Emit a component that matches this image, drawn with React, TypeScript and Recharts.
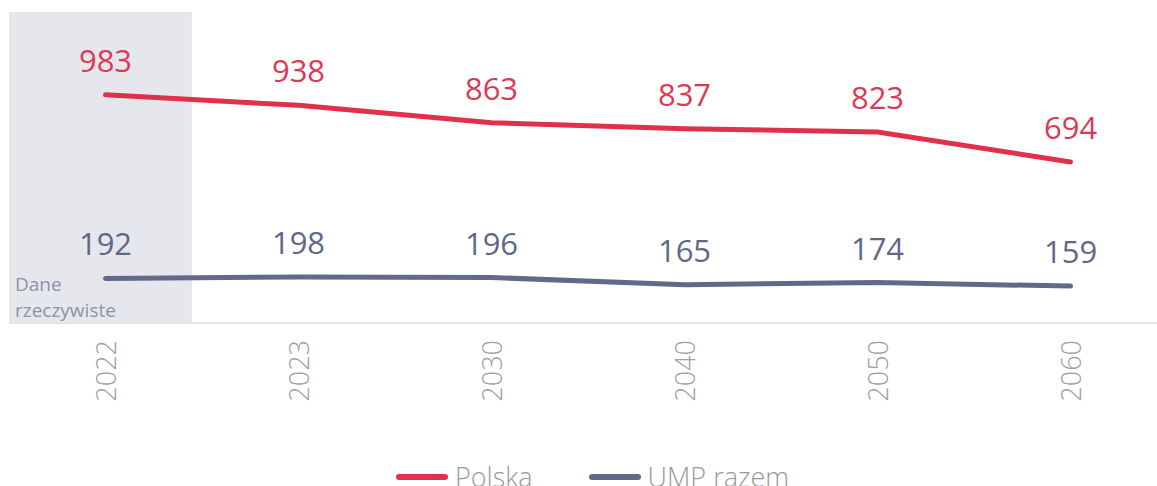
import { LineChart, Line, XAxis, YAxis, ReferenceArea, LabelList } from "recharts";

const years = ["2022", "2023", "2030", "2040", "2050", "2060"];
const polska = [983, 938, 863, 837, 823, 694];
const ump = [192, 198, 196, 165, 174, 159];

const RED = "#e0304b";
const BLUE = "#626a8a";
const FONT = "'Open Sans', 'Noto Sans', sans-serif";

const data = years.map((y, i) => ({ idx: i, year: y, polska: polska[i], ump: ump[i] }));

const makeLabel = (color: string) => (props: any) => {
  const { x, y, value } = props;
  return (
    <text x={x} y={y - 35} fill={color} fontSize={31} fontFamily={FONT} textAnchor="middle" dominantBaseline="central">
      {value}
    </text>
  );
};

const YearTick = (props: any) => {
  const { x, payload } = props;
  return (
    <text
      x={x}
      y={340}
      transform={`rotate(-90, ${x}, 340)`}
      textAnchor="end"
      dominantBaseline="central"
      fill="#a0a0a0"
      fontSize={27}
      fontWeight={300}
      fontFamily={FONT}
    >
      {years[payload.value]}
    </text>
  );
};

const legendItems = [
  { name: "Polska", color: RED },
  { name: "UMP razem", color: BLUE },
];

export default function App() {
  return (
    <div style={{ position: "absolute", left: 0, top: 0, width: 1157, height: 486, background: "#fff", overflow: "hidden" }}>
      <LineChart width={1157} height={486} data={data} margin={{ top: 12, right: 0, left: 9, bottom: 133 }}>
        <XAxis
          dataKey="idx"
          type="number"
          domain={[-0.5, 5.448]}
          ticks={[0, 1, 2, 3, 4, 5]}
          tick={<YearTick />}
          tickLine={false}
          axisLine={{ stroke: "#e4e4e4", strokeWidth: 2 }}
          allowDataOverflow
        />
        <YAxis hide domain={[0, 1340]} />
        <Line dataKey="polska" stroke={RED} strokeWidth={5} strokeLinecap="round" dot={false} isAnimationActive={false}>
          <LabelList dataKey="polska" content={makeLabel("#db3a55")} />
        </Line>
        <Line dataKey="ump" stroke={BLUE} strokeWidth={5} strokeLinecap="round" dot={false} isAnimationActive={false}>
          <LabelList dataKey="ump" content={makeLabel("#5f6887")} />
        </Line>
        <ReferenceArea x1={-0.5} x2={0.448} y1={0} y2={1340} fill="#dcdde6" fillOpacity={0.7} stroke="none" />
      </LineChart>
      <div style={{ position: "absolute", left: 15, top: 271, fontFamily: FONT, fontSize: 19, lineHeight: "26px", color: "#8c92aa" }}>
        Dane<br />rzeczywiste
      </div>
      <div style={{ position: "absolute", left: 0, width: 1157, top: 462, height: 30, lineHeight: "30px", display: "flex", justifyContent: "center", alignItems: "center", gap: 56, fontFamily: FONT, fontWeight: 300, fontSize: 27, color: "#9a9a9a", paddingLeft: 28, boxSizing: "border-box" }}>
        {legendItems.map((it) => (
          <div key={it.name} style={{ display: "flex", alignItems: "center" }}>
            <span style={{ display: "inline-block", width: 52, height: 6, borderRadius: 3, background: it.color, marginRight: 7 }} />
            {it.name}
          </div>
        ))}
      </div>
    </div>
  );
}
